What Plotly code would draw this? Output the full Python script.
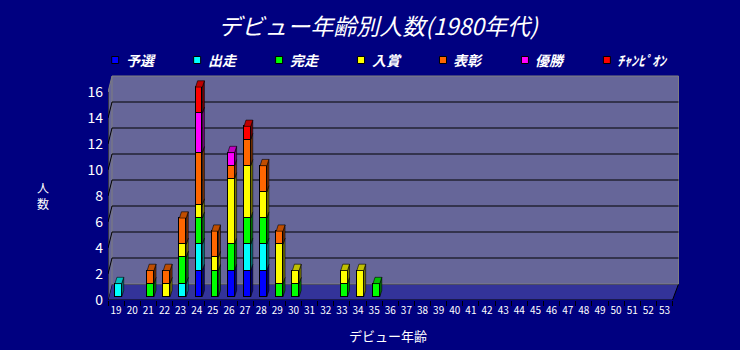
import plotly.graph_objects as go

# ---- data -------------------------------------------------------------
ages = list(range(19, 54))
age_labels = [str(a) for a in ages]
y_ticks = [0, 2, 4, 6, 8, 10, 12, 14, 16]

series_names = ["予選", "出走", "完走", "入賞", "表彰", "優勝", "ﾁｬﾝﾋﾟｵﾝ"]

# count of drivers per debut age, by best result
yosen = {24: 2, 26: 2, 27: 2, 28: 2}
shusso = {19: 1, 23: 1, 24: 2, 27: 2, 28: 2}
kanso = {21: 1, 23: 2, 24: 2, 25: 2, 26: 2, 27: 2, 28: 2, 29: 1, 30: 1, 33: 1, 35: 1}
nyusho = {22: 1, 23: 1, 24: 1, 25: 1, 26: 5, 27: 4, 28: 2, 29: 3, 30: 1, 33: 1, 34: 2}
hyosho = {21: 1, 22: 1, 23: 2, 24: 4, 25: 2, 26: 1, 27: 2, 28: 2, 29: 1}
yusho = {24: 3, 26: 1}
champion = {24: 2, 27: 1}

series_data = [yosen, shusso, kanso, nyusho, hyosho, yusho, champion]

face_colors = ["#0000FF", "#00FFFF", "#00FF00", "#FFFF00", "#FF6600", "#FF00FF", "#FF0000"]
side_colors = ["#000080", "#008080", "#008000", "#808000", "#803300", "#800080", "#800000"]
top_colors = ["#0000C0", "#00C0C0", "#00C000", "#C0C000", "#C04D00", "#C000C0", "#C00000"]

BG = "#000080"
WALL = "#666699"
FLOOR = "#333399"
FONT = "Noto Sans CJK JP"

# ---- geometry (pixels of the plot area) -------------------------------
W_FIG, H_FIG = 740, 350
L, B = 108, 300           # left / bottom of the plot area
X0, X1 = 18.5, 53.9       # category axis range
PX_PER_CAT = 16.14
PX_PER_UNIT = 13.0
PW = (X1 - X0) * PX_PER_CAT
Y1 = 225 / PX_PER_UNIT
PH = Y1 * PX_PER_UNIT

# depth of the box (back wall offset)
DX_L, DX_R, DY = 0.25, 0.37, 1.23
FRONT_R = 53.5

# bars sit a little behind the front edge
BAR_DX = 0.14
BAR_SCALE = 13.1
BAR_Y0 = -3.3 / BAR_SCALE
BAR_W = 0.42
DEPTH_X = 2.0 / PX_PER_CAT
DEPTH_Y = 6.3 / BAR_SCALE


def px_x(p):
    return (p - L) / PW


def px_y(p):
    return (B - p) / PH


fig = go.Figure()

# ---- stacked bars with side and top faces -----------------------------
cum = {a: 0 for a in ages}
side_polys = []
for name, data, fc, sc in zip(series_names, series_data, face_colors, side_colors):
    vals = [data.get(a) for a in ages]
    fig.add_trace(go.Bar(
        x=ages, y=vals, name=name, width=BAR_W,
        marker=dict(color=fc, line=dict(color="black", width=1)),
        xaxis="x2", yaxis="y2", showlegend=False,
    ))
    xs, ys = [], []
    for a in ages:
        v = data.get(a, 0)
        if v:
            y0, y1 = cum[a], cum[a] + v
            xr = a + BAR_W / 2
            xs += [xr, xr + DEPTH_X, xr + DEPTH_X, xr, xr, None]
            ys += [y0, y0 + DEPTH_Y, y1 + DEPTH_Y, y1, y0, None]
            cum[a] = y1
    side_polys.append((xs, ys, sc))

for xs, ys, sc in side_polys:
    fig.add_trace(go.Scatter(
        x=xs, y=ys, mode="lines", fill="toself", fillcolor=sc,
        line=dict(color="black", width=0.6), xaxis="x2", yaxis="y2",
        showlegend=False, hoverinfo="skip",
    ))

# top faces take the colour of the highest segment
for i, tc in enumerate(top_colors):
    xs, ys = [], []
    for a in ages:
        top_idx = max((k for k, d in enumerate(series_data) if d.get(a, 0)), default=None)
        if top_idx == i:
            t = cum[a]
            xl, xr = a - BAR_W / 2, a + BAR_W / 2
            xs += [xl, xl + DEPTH_X, xr + DEPTH_X, xr, xl, None]
            ys += [t, t + DEPTH_Y, t + DEPTH_Y, t, t, None]
    if xs:
        fig.add_trace(go.Scatter(
            x=xs, y=ys, mode="lines", fill="toself", fillcolor=tc,
            line=dict(color="black", width=0.6), xaxis="x2", yaxis="y2",
            showlegend=False, hoverinfo="skip",
        ))

# ---- box: floor, walls, grid ------------------------------------------
shapes = []
shapes.append(dict(type="path", layer="below", xref="x", yref="y",
                   path=f"M{X0},0 L{FRONT_R},0 L{FRONT_R + DX_R},{DY} L{X0 + DX_L},{DY} Z",
                   fillcolor=FLOOR, line=dict(color="black", width=1)))
shapes.append(dict(type="path", layer="below", xref="x", yref="y",
                   path=f"M{X0},0 L{X0},16 L{X0 + DX_L},{16 + DY} L{X0 + DX_L},{DY} Z",
                   fillcolor=WALL, line=dict(width=0)))
shapes.append(dict(type="rect", layer="below", xref="x", yref="y",
                   x0=X0 + DX_L, x1=FRONT_R + DX_R, y0=DY, y1=16 + DY,
                   fillcolor=WALL, line=dict(color="#808080", width=1)))
for v in y_ticks[1:-1]:
    shapes.append(dict(type="line", layer="below", xref="x", yref="y",
                       x0=X0 + DX_L, x1=FRONT_R + DX_R, y0=v + DY, y1=v + DY,
                       line=dict(color="black", width=1)))
    shapes.append(dict(type="line", layer="below", xref="x", yref="y",
                       x0=X0, x1=X0 + DX_L, y0=v, y1=v + DY,
                       line=dict(color="black", width=1)))
shapes.append(dict(type="line", layer="below", xref="x", yref="y",
                   x0=X0, x1=X0 + DX_L, y0=16, y1=16 + DY,
                   line=dict(color="#808080", width=1)))
shapes.append(dict(type="line", layer="below", xref="x", yref="y",
                   x0=X0, x1=X0, y0=0, y1=16, line=dict(color="black", width=1)))

# ---- legend drawn as a row of swatches --------------------------------
annotations = []
for i, (name, fc) in enumerate(zip(series_names, face_colors)):
    sx = 111.7 + 82 * i
    shapes.append(dict(type="rect", xref="paper", yref="paper",
                       x0=px_x(sx), x1=px_x(sx + 7), y0=px_y(63.5), y1=px_y(56.5),
                       fillcolor=fc, line=dict(color="black", width=1)))
    annotations.append(dict(x=px_x(sx + 12), y=px_y(60), xref="paper", yref="paper",
                            xanchor="left", yanchor="middle", text=name, showarrow=False,
                            font=dict(family=FONT, size=14, color="white",
                                      style="italic", weight="bold")))

annotations.append(dict(x=px_x(388), y=px_y(335), xref="paper", yref="paper",
                        xanchor="center", yanchor="middle",
                        text="デビュー年齢", showarrow=False,
                        font=dict(family=FONT, size=13, color="white")))
annotations.append(dict(x=px_x(43), y=px_y(195), xref="paper", yref="paper",
                        xanchor="center", yanchor="middle",
                        text="人<br>数", showarrow=False,
                        font=dict(family=FONT, size=12, color="white")))

fig.update_layout(
    width=W_FIG, height=H_FIG,
    margin=dict(l=L, r=W_FIG - L - PW, t=B - PH, b=H_FIG - B, pad=0),
    paper_bgcolor=BG, plot_bgcolor=BG,
    barmode="stack", bargap=0,
    title=dict(text="デビュー年齢別人数(1980年代)", x=378 / W_FIG, y=1 - 27 / H_FIG,
               xanchor="center", yanchor="middle", xref="container", yref="container",
               font=dict(family=FONT, size=23, color="white", style="italic")),
    xaxis=dict(range=[X0, X1], tickmode="array", tickvals=ages, ticktext=age_labels,
               ticks="", showgrid=False, zeroline=False, showline=False,
               tickfont=dict(family=FONT, size=10, color="white"),
               ticklabelstandoff=3,
               minor=dict(tickmode="array", tickvals=[a + 0.5 for a in [18] + ages],
                          ticks="outside", ticklen=5, tickcolor="black", tickwidth=1,
                          showgrid=False)),
    yaxis=dict(range=[0, Y1], tickmode="array", tickvals=y_ticks,
               ticks="", showgrid=False, zeroline=False, showline=False,
               tickfont=dict(family=FONT, size=14, color="white"),
               ticklabelstandoff=4),
    xaxis2=dict(range=[X0 - BAR_DX, X1 - BAR_DX], overlaying="x", visible=False),
    yaxis2=dict(range=[BAR_Y0, BAR_Y0 + PH / BAR_SCALE], overlaying="y", visible=False),
    shapes=shapes, annotations=annotations,
)

fig.write_html("out.html")
